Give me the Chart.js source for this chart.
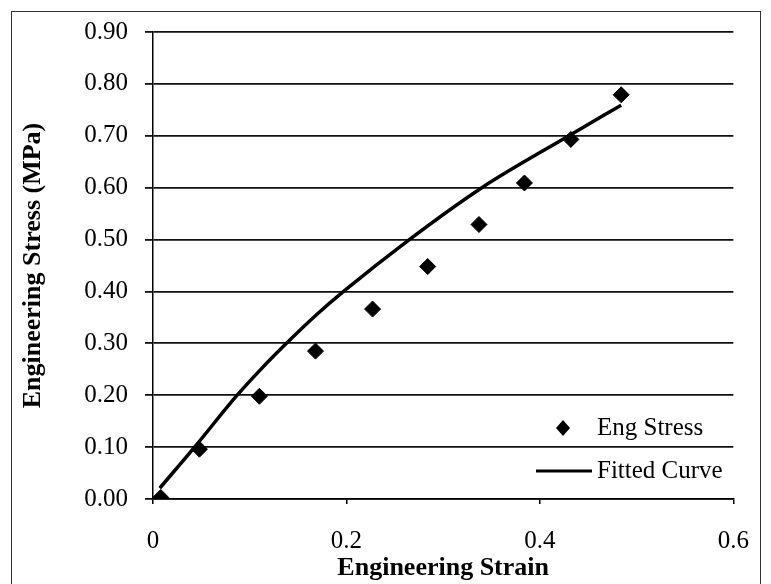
<!DOCTYPE html>
<html lang="en">
<head>
    <meta charset="UTF-8">
    <title>Engineering Stress vs Strain</title>
    <script src="https://cdn.jsdelivr.net/npm/chart.js"></script>
    <style>
        body {
            margin: 0;
            background: #fff;
        }
        canvas {
            display: block;
        }
    </style>
</head>
<body>

<canvas id="stressChart" width="771" height="584"></canvas>

<script>
    // measured points
    const strainPts = [0.008, 0.048, 0.110, 0.168, 0.227, 0.284, 0.337, 0.384, 0.432, 0.484];
    const stressPts = [0.003, 0.096, 0.198, 0.285, 0.366, 0.448, 0.529, 0.609, 0.693, 0.779];

    // fitted curve
    const fitStrain = [0.007, 0.043, 0.087, 0.110, 0.138, 0.169, 0.197, 0.265, 0.340, 0.430, 0.484];
    const fitStress = [0.021, 0.100, 0.200, 0.247, 0.300, 0.355, 0.400, 0.500, 0.600, 0.700, 0.759];

    const yTicks = [0, 0.1, 0.2, 0.3, 0.4, 0.5, 0.6, 0.7, 0.8, 0.9];
    const xTicks = [0, 0.2, 0.4, 0.6];

    const FONT = 'Liberation Serif';

    const toXY = (xs, ys) => xs.map((x, i) => ({x: x, y: ys[i]}));

    // frame round the whole picture + legend drawn inside the plot
    const extras = {
        id: 'extras',
        afterDraw(chart) {
            const ctx = chart.ctx;
            ctx.save();
            ctx.strokeStyle = '#333';
            ctx.lineWidth = 1;
            ctx.strokeRect(11.5, 11.5, 749, 620);

            ctx.fillStyle = '#000';
            ctx.font = '25px ' + FONT;
            ctx.textBaseline = 'middle';
            ctx.textAlign = 'left';

            // marker entry
            ctx.beginPath();
            ctx.moveTo(563, 420);
            ctx.lineTo(570, 428);
            ctx.lineTo(563, 436);
            ctx.lineTo(556, 428);
            ctx.closePath();
            ctx.fill();
            ctx.fillText('Eng Stress', 597, 428);

            // line entry
            ctx.strokeStyle = '#000';
            ctx.lineWidth = 3;
            ctx.beginPath();
            ctx.moveTo(536, 471);
            ctx.lineTo(592, 471);
            ctx.stroke();
            ctx.fillText('Fitted Curve', 597, 471);
            ctx.restore();
        }
    };

    new Chart(document.getElementById('stressChart'), {
        type: 'scatter',
        data: {
            datasets: [{
                label: 'Eng Stress',
                data: toXY(strainPts, stressPts),
                pointStyle: 'rectRot',
                pointRadius: 8,
                pointBackgroundColor: '#000',
                pointBorderColor: '#000',
                pointBorderWidth: 1,
                showLine: false
            }, {
                label: 'Fitted Curve',
                data: toXY(fitStrain, fitStress),
                showLine: true,
                borderColor: '#000',
                borderWidth: 3.5,
                pointRadius: 0,
                cubicInterpolationMode: 'monotone'
            }]
        },
        options: {
            responsive: false,
            animation: false,
            layout: {
                padding: {left: 0, top: 29, right: 37, bottom: 0}
            },
            plugins: {
                legend: {display: false},
                tooltip: {enabled: false}
            },
            scales: {
                x: {
                    type: 'linear',
                    min: 0,
                    max: 0.6,
                    afterBuildTicks: s => { s.ticks = xTicks.map(v => ({value: v})); },
                    afterFit: s => { s.height = 85; },
                    grid: {
                        drawOnChartArea: false,
                        drawTicks: true,
                        tickLength: 5,
                        color: '#000',
                        lineWidth: 1.5
                    },
                    border: {display: true, color: '#000', width: 1.5},
                    ticks: {
                        color: '#000',
                        padding: 22,
                        maxRotation: 0,
                        font: {family: FONT, size: 25},
                        callback: v => String(v)
                    },
                    title: {
                        display: true,
                        text: 'Engineering Strain',
                        color: '#000',
                        padding: {top: 0, bottom: 0},
                        font: {family: FONT, size: 26, weight: 'bold'}
                    }
                },
                y: {
                    min: 0,
                    max: 0.9,
                    afterBuildTicks: s => { s.ticks = yTicks.map(v => ({value: v})); },
                    afterFit: s => { s.width = 153; },
                    grid: {
                        color: '#111',
                        lineWidth: 1.8,
                        tickLength: 8
                    },
                    border: {display: true, color: '#000', width: 1.5},
                    ticks: {
                        color: '#000',
                        padding: 17,
                        font: {family: FONT, size: 25},
                        callback: v => v.toFixed(2)
                    },
                    title: {
                        display: true,
                        text: 'Engineering Stress (MPa)',
                        color: '#000',
                        padding: {top: 18, bottom: 0},
                        font: {family: FONT, size: 26, weight: 'bold'}
                    }
                }
            }
        },
        plugins: [extras]
    });
</script>
</body>
</html>
